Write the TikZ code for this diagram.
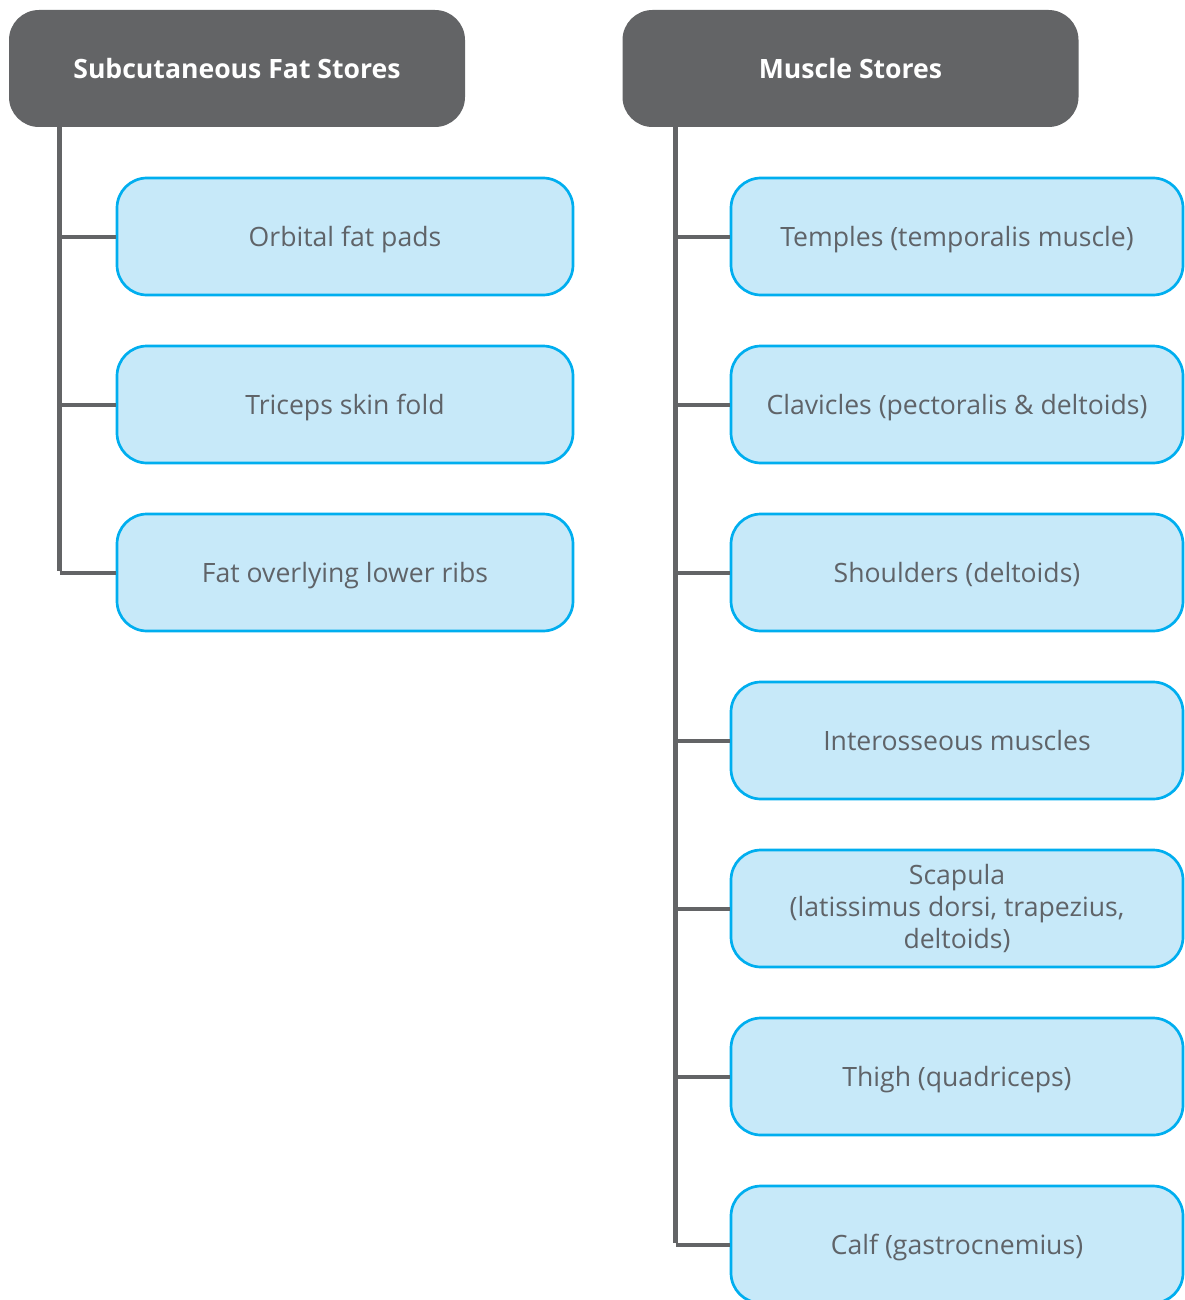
\documentclass[tikz,border=0pt]{standalone}
\usepackage{fontspec}
\setmainfont{Open Sans}
\definecolor{hdrgray}{HTML}{636466}
\definecolor{linegray}{HTML}{636466}
\definecolor{boxfill}{HTML}{C7E9F9}
\definecolor{boxline}{HTML}{00AEEF}
\definecolor{txtgray}{HTML}{5F6368}
\begin{document}
\begin{tikzpicture}[x=1pt,y=-1pt,
  header/.style={fill=hdrgray, draw=none, rounded corners=30pt, minimum width=456pt, minimum height=117pt, inner sep=0pt, text=white, font=\fontsize{26.6}{32}\selectfont\bfseries},
  item/.style={fill=boxfill, draw=boxline, line width=2.7pt, rounded corners=30pt, minimum width=452pt, minimum height=117pt, inner sep=0pt, text=txtgray, align=center, text height=24pt, text depth=4pt, font=\fontsize{26.6}{32}\selectfont},
  multi/.style={text height=, text depth=},
  trunk/.style={draw=linegray, line width=5.5pt},
  branch/.style={draw=linegray, line width=4pt}]
\useasboundingbox (0,0) rectangle (1184,1300);
% headers
\node[header] (hl) at (237,68.5) {Subcutaneous Fat Stores};
\node[header] (hr) at (850.5,68.5) {Muscle Stores};
\coordinate (tl) at (59.5,127);
\coordinate (tr) at (675.5,127);
% left items
\node[item, minimum width=456pt] (l1) at (345,236.5) {Orbital fat pads};
\node[item, minimum width=456pt] (l2) at (345,404.5) {Triceps skin fold};
\node[item, minimum width=456pt] (l3) at (345,572.5) {Fat overlying lower ribs};
% right items
\node[item] (r1) at (957,236.5) {Temples (temporalis muscle)};
\node[item] (r2) at (957,404.5) {Clavicles (pectoralis \& deltoids)};
\node[item] (r3) at (957,572.5) {Shoulders (deltoids)};
\node[item] (r4) at (957,740.5) {Interosseous muscles};
\node[item, multi] (r5) at (957,908.5) {Scapula\\(latissimus dorsi, trapezius,\\deltoids)};
\node[item] (r6) at (957,1076.5) {Thigh (quadriceps)};
\node[item] (r7) at (957,1244.5) {Calf (gastrocnemius)};
% left connectors
\draw[trunk] (tl) -- ([yshift=2pt]tl |- l3.west);
\foreach \n in {l1,l2,l3} \draw[branch] (tl |- \n.west) -- (\n.west);
% right connectors
\draw[trunk] (tr) -- ([yshift=2pt]tr |- r7.west);
\foreach \n in {r1,r2,r3,r4,r5,r6,r7} \draw[branch] (tr |- \n.west) -- (\n.west);
\end{tikzpicture}
\end{document}
